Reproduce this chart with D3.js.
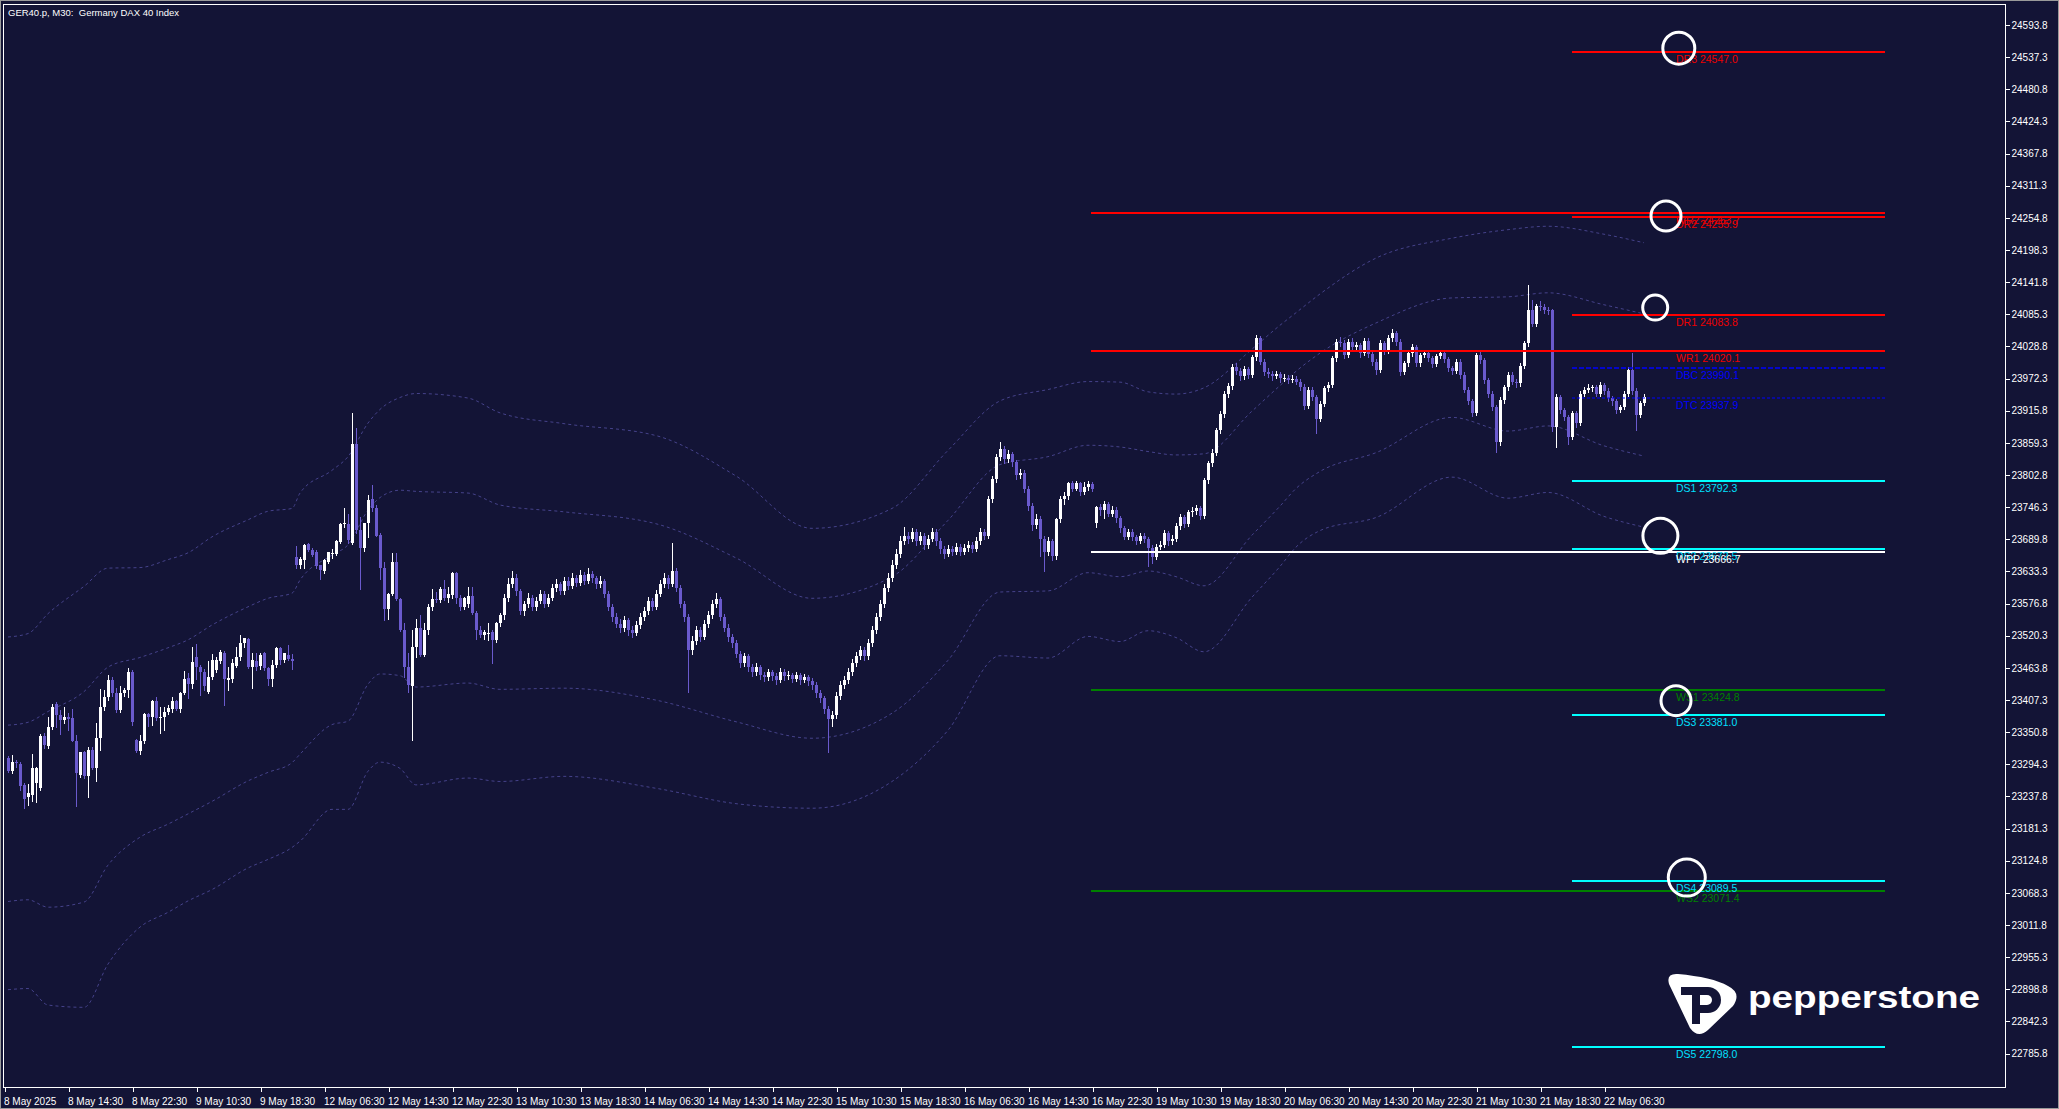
<!DOCTYPE html>
<html>
<head>
<meta charset="utf-8">
<script src="https://cdn.jsdelivr.net/npm/d3@7"></script>
<style>
  html, body { margin: 0; padding: 0; background: #131436; }
  svg { display: block; }
  text { font-family: "Liberation Sans", Arial, sans-serif; }
</style>
</head>
<body>
<div id="container"></div>
<script>
/* CONSTANTS AND GLOBALS */
const width = 2059, height = 1109;
const plot = {left: 3, top: 4, right: 2005, bottom: 1087};
const bgColor = "#131436";
const bullColor = "#ffffff", bearColor = "#6a5acd";

// time labels on the bottom axis, one every 16 bars
const timeLabels = ["8 May 2025", "8 May 14:30", "8 May 22:30", "9 May 10:30", "9 May 18:30",
  "12 May 06:30", "12 May 14:30", "12 May 22:30", "13 May 10:30", "13 May 18:30",
  "14 May 06:30", "14 May 14:30", "14 May 22:30", "15 May 10:30", "15 May 18:30",
  "16 May 06:30", "16 May 14:30", "16 May 22:30", "19 May 10:30", "19 May 18:30",
  "20 May 06:30", "20 May 14:30", "20 May 22:30", "21 May 10:30", "21 May 18:30",
  "22 May 06:30"];

// price scale labels
const yTickValues = [24593.8, 24537.3, 24480.8, 24424.3, 24367.8, 24311.3, 24254.8, 24198.3,
  24141.8, 24085.3, 24028.8, 23972.3, 23915.8, 23859.3, 23802.8, 23746.3, 23689.8, 23633.3,
  23576.8, 23520.3, 23463.8, 23407.3, 23350.8, 23294.3, 23237.8, 23181.3, 23124.8, 23068.3,
  23011.8, 22955.3, 22898.8, 22842.3, 22785.8];

// M30 candles [open, high, low, close]
const candles = [
  [23306,23309,23281,23283],[23283,23310,23279,23298],[23298,23302,23290,23296],[23295,23298,23249,23256],
  [23258,23262,23217,23234],[23236,23260,23223,23243],[23240,23312,23230,23287],[23262,23290,23228,23288],
  [23253,23347,23249,23344],[23344,23350,23322,23328],[23327,23378,23322,23360],[23360,23401,23357,23395],
  [23400,23404,23360,23381],[23381,23390,23347,23372],[23372,23395,23366,23377],[23377,23384,23354,23374],
  // 8 May 14:30
  [23375,23391,23335,23336],[23336,23346,23221,23279],[23276,23316,23272,23315],[23315,23318,23270,23274],
  [23274,23325,23236,23320],[23320,23324,23286,23287],[23287,23366,23264,23340],[23340,23426,23320,23395],
  [23395,23425,23390,23413],[23413,23451,23407,23442],[23442,23447,23415,23419],[23419,23428,23387,23390],
  [23390,23431,23387,23419],[23419,23428,23414,23425],[23425,23463,23413,23456],[23456,23460,23363,23369],
  // 8 May 22:30
  [23337,23338,23316,23318],[23318,23345,23313,23335],[23335,23384,23331,23382],[23382,23385,23361,23377],
  [23377,23407,23363,23406],[23406,23413,23372,23375],[23375,23395,23350,23378],[23378,23395,23354,23387],
  [23386,23398,23383,23393],[23391,23413,23387,23406],[23406,23408,23390,23392],[23392,23422,23387,23419],
  [23419,23459,23418,23445],[23446,23454,23410,23435],[23435,23501,23428,23474],[23482,23505,23445,23465],
  // 9 May 10:30
  [23465,23469,23416,23457],[23457,23462,23425,23432],[23422,23476,23419,23448],[23448,23488,23445,23477],
  [23460,23482,23456,23477],[23475,23495,23472,23492],[23490,23494,23398,23445],[23442,23466,23425,23446],
  [23444,23479,23439,23472],[23467,23501,23466,23483],[23482,23521,23477,23507],[23507,23517,23501,23516],
  [23514,23516,23463,23465],[23466,23490,23429,23477],[23476,23489,23460,23466],[23467,23490,23462,23486],
  // 9 May 18:30
  [23489,23492,23460,23463],[23463,23465,23433,23445],[23445,23477,23432,23469],[23469,23501,23465,23498],
  [23498,23501,23471,23477],[23477,23490,23474,23490],[23486,23504,23477,23480],[23480,23488,23462,23476],
  [23659,23678,23640,23645],[23645,23658,23640,23655],[23653,23681,23640,23680],[23681,23684,23670,23671],
  [23671,23675,23660,23662],[23668,23671,23640,23642],[23644,23645,23620,23636],[23634,23655,23630,23653],
  // 12 May 06:30
  [23650,23668,23648,23667],[23665,23672,23657,23666],[23664,23689,23662,23686],[23685,23718,23683,23716],
  [23716,23744,23712,23718],[23716,23735,23684,23688],[23684,23911,23682,23857],[23858,23885,23700,23706],
  [23706,23729,23602,23674],[23674,23719,23670,23719],[23719,23767,23694,23759],[23760,23786,23740,23744],
  [23745,23750,23696,23696],[23697,23700,23620,23639],[23640,23650,23548,23568],[23568,23595,23549,23594],
  // 12 May 14:30
  [23594,23665,23592,23650],[23650,23665,23583,23585],[23585,23587,23528,23530],[23530,23542,23448,23466],
  [23466,23489,23422,23433],[23432,23530,23337,23500],[23500,23549,23483,23533],[23533,23556,23484,23487],
  [23487,23542,23484,23530],[23530,23576,23524,23571],[23571,23603,23565,23585],[23585,23597,23580,23583],
  [23583,23606,23580,23602],[23602,23619,23583,23586],[23586,23606,23580,23594],[23592,23632,23586,23630],
  // 12 May 22:30
  [23630,23633,23578,23586],[23586,23592,23565,23571],[23571,23589,23567,23586],[23576,23605,23570,23590],
  [23590,23605,23559,23561],[23561,23563,23515,23531],[23531,23537,23518,23522],[23522,23530,23515,23527],
  [23523,23542,23513,23525],[23527,23530,23473,23513],[23513,23545,23510,23542],[23542,23560,23538,23556],
  [23556,23594,23550,23587],[23587,23622,23582,23611],[23611,23634,23605,23622],[23622,23628,23592,23599],
  // 13 May 10:30
  [23599,23603,23558,23564],[23564,23582,23556,23576],[23576,23596,23570,23587],[23587,23592,23565,23571],
  [23571,23588,23566,23581],[23581,23601,23577,23594],[23594,23598,23570,23576],[23576,23593,23572,23587],
  [23587,23611,23583,23604],[23604,23620,23598,23611],[23611,23615,23593,23599],[23599,23624,23594,23617],
  [23617,23623,23602,23608],[23608,23630,23604,23622],[23622,23627,23607,23613],[23613,23635,23609,23627],
  // 13 May 18:30
  [23627,23632,23611,23617],[23617,23640,23613,23629],[23629,23634,23615,23622],[23622,23626,23604,23611],
  [23611,23625,23606,23617],[23617,23620,23588,23594],[23594,23598,23565,23571],[23571,23576,23546,23553],
  [23553,23560,23535,23541],[23541,23549,23527,23534],[23534,23555,23529,23548],[23548,23552,23522,23530],
  [23530,23537,23518,23525],[23525,23546,23521,23539],[23539,23560,23534,23553],[23553,23571,23548,23564],
  // 14 May 06:30
  [23564,23588,23559,23581],[23581,23586,23565,23571],[23571,23601,23567,23594],[23594,23618,23590,23611],
  [23611,23630,23606,23622],[23622,23627,23604,23611],[23611,23684,23607,23634],[23634,23640,23598,23604],
  [23604,23610,23570,23576],[23576,23581,23546,23553],[23553,23558,23421,23495],[23495,23520,23488,23511],
  [23511,23538,23505,23530],[23530,23535,23511,23518],[23518,23548,23514,23541],[23541,23564,23536,23557],
  // 14 May 14:30
  [23557,23583,23552,23576],[23576,23595,23570,23585],[23585,23589,23547,23553],[23553,23558,23528,23534],
  [23534,23540,23511,23518],[23518,23523,23500,23507],[23507,23512,23482,23488],[23488,23493,23465,23472],
  [23472,23490,23467,23484],[23484,23488,23458,23465],[23465,23470,23449,23456],[23456,23472,23451,23465],
  [23465,23469,23445,23451],[23451,23457,23440,23447],[23447,23462,23442,23456],[23456,23460,23443,23449],
  // 14 May 22:30
  [23449,23454,23436,23442],[23442,23463,23438,23456],[23456,23461,23443,23449],[23449,23458,23444,23451],
  [23451,23455,23438,23444],[23444,23457,23440,23451],[23451,23455,23436,23442],[23442,23453,23438,23447],
  [23447,23451,23434,23440],[23440,23446,23427,23433],[23433,23438,23412,23419],[23419,23424,23403,23410],
  [23410,23415,23384,23391],[23391,23396,23315,23373],[23373,23388,23362,23380],[23380,23421,23376,23414],
  // 15 May 10:30
  [23414,23440,23409,23433],[23433,23449,23428,23442],[23442,23463,23437,23456],[23456,23479,23451,23472],
  [23472,23491,23467,23484],[23484,23502,23479,23495],[23495,23500,23478,23484],[23484,23514,23480,23507],
  [23507,23537,23502,23530],[23530,23560,23525,23553],[23553,23583,23548,23576],[23576,23611,23570,23604],
  [23604,23630,23598,23622],[23622,23653,23617,23645],[23645,23672,23640,23664],[23664,23695,23658,23687],
  // 15 May 18:30
  [23687,23712,23681,23696],[23696,23702,23684,23691],[23691,23710,23686,23703],[23703,23708,23680,23687],
  [23687,23703,23682,23696],[23696,23700,23673,23680],[23680,23698,23675,23691],[23691,23709,23686,23703],
  [23703,23707,23680,23687],[23687,23692,23666,23673],[23673,23678,23657,23664],[23664,23680,23660,23673],
  [23673,23678,23662,23668],[23668,23684,23664,23677],[23677,23682,23662,23668],[23668,23681,23663,23675],
  // 16 May 06:30
  [23675,23686,23670,23680],[23680,23685,23667,23673],[23673,23693,23669,23687],[23687,23709,23682,23703],
  [23703,23708,23690,23696],[23696,23766,23692,23761],[23761,23801,23756,23795],[23795,23840,23790,23834],
  [23834,23860,23829,23848],[23848,23853,23824,23830],[23830,23846,23825,23839],[23839,23843,23818,23825],
  [23825,23829,23796,23802],[23802,23813,23797,23807],[23807,23811,23772,23779],[23779,23783,23742,23749],
  // 16 May 14:30
  [23749,23753,23706,23714],[23714,23734,23709,23726],[23726,23730,23660,23691],[23691,23696,23634,23668],
  [23668,23693,23662,23687],[23687,23690,23653,23660],[23660,23728,23655,23726],[23726,23765,23721,23760],
  [23760,23772,23752,23766],[23766,23791,23761,23789],[23789,23793,23774,23779],[23779,23792,23776,23788],
  [23788,23791,23768,23772],[23772,23790,23769,23781],[23781,23792,23776,23787],[23787,23790,23774,23778],
  // 16 May 22:30 / new week
  [23719,23748,23712,23746],[23746,23752,23733,23741],[23741,23757,23728,23752],[23752,23756,23730,23735],
  [23735,23748,23730,23742],[23742,23746,23720,23727],[23727,23731,23703,23709],[23709,23713,23690,23694],
  [23694,23708,23690,23703],[23703,23707,23688,23693],[23693,23698,23682,23687],[23687,23700,23683,23696],
  [23696,23701,23685,23690],[23690,23694,23642,23674],[23674,23680,23648,23659],[23659,23681,23655,23677],
  // 19 May 10:30
  [23677,23687,23672,23680],[23680,23706,23676,23700],[23700,23704,23680,23686],[23686,23697,23681,23691],
  [23691,23718,23687,23713],[23713,23734,23708,23729],[23729,23733,23712,23717],[23717,23741,23713,23737],
  [23737,23746,23731,23740],[23740,23750,23735,23744],[23744,23748,23725,23731],[23731,23798,23727,23794],
  [23794,23828,23789,23823],[23823,23848,23818,23842],[23842,23886,23838,23882],[23882,23915,23877,23910],
  // 19 May 18:30
  [23910,23950,23905,23946],[23946,23964,23940,23959],[23959,23998,23954,23993],[23993,23999,23980,23986],
  [23986,23990,23970,23976],[23976,23994,23971,23989],[23989,23993,23974,23979],[23979,24014,23975,24010],
  [24010,24049,24005,24043],[24043,24047,23997,24002],[24002,24006,23978,23983],[23983,23990,23975,23980],
  [23980,23985,23970,23977],[23977,23986,23973,23980],[23980,23984,23967,23973],[23973,23980,23968,23974],
  // 20 May 06:30
  [23974,23978,23964,23970],[23970,23978,23966,23972],[23972,23976,23962,23967],[23967,23972,23953,23958],
  [23958,23962,23918,23924],[23924,23958,23920,23953],[23953,23958,23934,23939],[23939,23943,23876,23902],
  [23902,23932,23898,23928],[23928,23960,23924,23955],[23955,23966,23950,23961],[23961,24012,23957,24008],
  [24008,24042,24003,24037],[24037,24045,24030,24035],[24035,24040,24008,24014],[24014,24042,24010,24037],
  // 20 May 14:30
  [24037,24044,24022,24027],[24027,24036,24022,24031],[24031,24035,24011,24017],[24017,24044,24013,24039],
  [24039,24043,24010,24015],[24015,24019,23996,24002],[24002,24006,23980,23987],[23987,24040,23983,24034],
  [24034,24038,24016,24021],[24021,24048,24017,24043],[24043,24059,24038,24052],[24052,24056,24032,24037],
  [24037,24041,23979,23984],[23984,24004,23980,23999],[23999,24021,23994,24017],[24017,24033,24012,24028],
  // 20 May 22:30
  [24028,24032,23994,23999],[23999,24018,23995,24014],[24014,24022,24010,24018],[24018,24022,24003,24008],
  [24008,24012,23993,23998],[23998,24016,23994,24012],[24012,24021,24008,24017],[24017,24021,24001,24006],
  [24006,24010,23985,23990],[23990,23995,23981,23986],[23986,24006,23982,24002],[24002,24006,23974,23979],
  [23979,23983,23948,23953],[23953,23957,23927,23932],[23932,23936,23907,23912],[23912,24018,23908,24014],
  // 21 May 10:30
  [24014,24020,24000,24005],[24005,24009,23965,23970],[23970,23974,23940,23945],[23945,23950,23917,23922],
  [23922,23926,23844,23861],[23861,23939,23856,23935],[23935,23961,23930,23957],[23957,23983,23952,23979],
  [23979,23984,23962,23967],[23967,23972,23958,23964],[23964,23999,23960,23994],[23994,24039,23990,24034],
  [24034,24137,24030,24093],[24093,24110,24064,24069],[24069,24104,24065,24099],[24099,24108,24092,24098],
  // 21 May 18:30
  [24098,24103,24088,24093],[24093,24098,24085,24092],[24092,24095,23880,23888],[23888,23945,23852,23940],
  [23940,23944,23912,23917],[23917,23921,23900,23905],[23905,23909,23858,23870],[23870,23916,23866,23911],
  [23911,23915,23888,23894],[23894,23951,23890,23946],[23946,23958,23941,23953],[23953,23963,23948,23955],
  [23955,23961,23950,23957],[23957,23961,23941,23946],[23946,23966,23942,23961],[23961,23965,23946,23951],
  // 22 May 06:30
  [23951,23955,23932,23938],[23938,23942,23926,23932],[23932,23936,23912,23917],[23917,23926,23913,23922],
  [23922,23950,23918,23945],[23945,23992,23941,23987],[23987,24017,23946,23951],[23951,23955,23882,23908],
  [23908,23933,23904,23929],[23929,23945,23925,23940]
];

// bollinger style bands: middle line and deviation, sampled at these bars
const bandBars = [0, 5, 10, 19, 25, 33, 40, 45, 51, 60, 65, 71, 73, 81, 85, 90, 93, 98, 102, 115,
  123, 139, 162, 182, 201, 221, 235, 248, 260, 270, 278, 285, 292, 299, 311, 318, 322, 328, 342,
  361, 375, 385, 399, 409];
const bandMid = [23208, 23212, 23215, 23237, 23291, 23324, 23344, 23360, 23384, 23418, 23433, 23446,
  23465, 23513, 23525, 23588, 23608, 23613, 23602, 23604, 23588, 23583, 23562, 23513, 23463, 23504,
  23600, 23709, 23717, 23743, 23738, 23739, 23731, 23724, 23806, 23854, 23882, 23913, 23956, 24009,
  23998, 24006, 23978, 23961];
const bandDev = [155, 156, 172, 185, 174, 158, 155, 153, 155, 153, 153, 149, 153, 149, 155, 153, 155,
  163, 172, 167, 162, 155, 155, 144, 123, 120, 123, 112, 118, 112, 114, 105, 107, 116, 109, 106, 103,
  104, 114, 105, 118, 117, 124, 125];

// pivot levels
const levelNames = ["DR3", "WR2", "DR2", "DR1", "WR1", "DBC", "DTC", "DS1", "DS2", "WPP", "WS1", "DS3", "DS4", "WS2", "DS5"];
const levelValues = [24547.0, 24263.7, 24255.9, 24083.8, 24020.1, 23990.1, 23937.9, 23792.3, 23672.5, 23666.7, 23424.8, 23381.0, 23089.5, 23071.4, 22798.0];

// hand drawn circles [bar, price, radius]
const circleMarks = [[417.7, 24553, 16], [414.5, 24258, 15], [411.8, 24097, 12.5],
  [413.1, 23696, 17.5], [417, 23406, 15], [419.7, 23095, 18.5]];

/* SCALES */
const xScale = d3.scaleLinear().domain([-1, 499.25]).range([4, 2005]);
const yScale = d3.scaleLinear().domain([22785.8, 24593.8]).range([1053.5, 25]);

const levelStyle = {
  DR: {stroke: "#ff0000", text: "#ee0000", width: 2, dash: null},
  WR: {stroke: "#ff0000", text: "#ee0000", width: 2, dash: null},
  DB: {stroke: "#0000ff", text: "#0000ff", width: 1.5, dash: "5,2"},
  DT: {stroke: "#0000ff", text: "#0000ff", width: 1, dash: "3,2"},
  DS: {stroke: "#00ffff", text: "#00e0ff", width: 2, dash: null},
  WS: {stroke: "#008000", text: "#008000", width: 2, dash: null},
  WP: {stroke: "#ffffff", text: "#ffffff", width: 2, dash: null}
};
const dailySpan = [391, 469.25], weeklySpan = [270.75, 469.25], labelBar = 417;

/* DRAW */
const svg = d3.select("#container").append("svg")
  .attr("width", width).attr("height", height);

svg.append("rect").attr("width", width).attr("height", height).attr("fill", bgColor);
svg.append("rect").attr("x", 0.5).attr("y", 0.5).attr("width", width - 1).attr("height", height - 1)
  .attr("fill", "none").attr("stroke", "#9a9a9a");

svg.append("clipPath").attr("id", "clip").append("rect")
  .attr("x", plot.left).attr("y", plot.top)
  .attr("width", plot.right - plot.left).attr("height", plot.bottom - plot.top);

const chart = svg.append("g").attr("clip-path", "url(#clip)");

// bands
[2, 1, -1, -2].forEach(k => {
  const line = d3.line()
    .x(d => xScale(d))
    .y((d, i) => yScale(bandMid[i] + k * bandDev[i]))
    .curve(d3.curveMonotoneX);
  chart.append("path").datum(bandBars)
    .attr("d", line)
    .attr("fill", "none")
    .attr("stroke", "#45428a")
    .attr("stroke-width", 1)
    .attr("stroke-dasharray", "3,3");
});

// candles
const candleG = chart.append("g").attr("shape-rendering", "crispEdges");
candleG.selectAll("line.wick")
  .data(candles)
  .join("line")
  .attr("class", "wick")
  .attr("x1", (d, i) => Math.round(xScale(i)) + 0.5)
  .attr("x2", (d, i) => Math.round(xScale(i)) + 0.5)
  .attr("y1", d => Math.round(yScale(d[1])))
  .attr("y2", d => Math.round(yScale(d[2])) + 1)
  .attr("stroke", d => d[3] >= d[0] ? bullColor : bearColor);

candleG.selectAll("rect.body")
  .data(candles)
  .join("rect")
  .attr("class", "body")
  .attr("x", (d, i) => Math.round(xScale(i)) - 1)
  .attr("width", 3)
  .attr("y", d => Math.round(yScale(Math.max(d[0], d[3]))))
  .attr("height", d => Math.max(1, Math.round(yScale(Math.min(d[0], d[3]))) - Math.round(yScale(Math.max(d[0], d[3])))))
  .attr("fill", d => d[3] >= d[0] ? bullColor : bearColor);

// pivot levels
const levels = levelNames.map((n, i) => ({name: n, value: levelValues[i], style: levelStyle[n.slice(0, 2)]}));
const levelG = svg.append("g");
levelG.selectAll("line")
  .data(levels)
  .join("line")
  .attr("x1", d => xScale(d.name[0] === "W" ? weeklySpan[0] : dailySpan[0]))
  .attr("x2", d => xScale(d.name[0] === "W" ? weeklySpan[1] : dailySpan[1]))
  .attr("y1", d => Math.round(yScale(d.value)))
  .attr("y2", d => Math.round(yScale(d.value)))
  .attr("stroke", d => d.style.stroke)
  .attr("stroke-width", d => d.style.width)
  .attr("stroke-dasharray", d => d.style.dash);

levelG.selectAll("text")
  .data(levels)
  .join("text")
  .attr("x", xScale(labelBar))
  .attr("y", d => Math.round(yScale(d.value)) + 11)
  .attr("font-size", "10.5px")
  .attr("fill", d => d.style.text)
  .text(d => `${d.name} ${d.value.toFixed(1)}`);

// circles
svg.append("g").selectAll("circle")
  .data(circleMarks)
  .join("circle")
  .attr("cx", d => xScale(d[0]))
  .attr("cy", d => yScale(d[1]))
  .attr("r", d => d[2])
  .attr("fill", "none")
  .attr("stroke", "#ffffff")
  .attr("stroke-width", 3);

// frame
svg.append("rect")
  .attr("x", plot.left + 0.5).attr("y", plot.top + 0.5)
  .attr("width", plot.right - plot.left).attr("height", plot.bottom - plot.top)
  .attr("fill", "none").attr("stroke", "#ffffff").attr("stroke-width", 1)
  .attr("shape-rendering", "crispEdges");

// right price axis
const yAxis = d3.axisRight(yScale)
  .tickValues(yTickValues)
  .tickFormat(d3.format(".1f"))
  .tickSize(4)
  .tickPadding(2);
const yAxisG = svg.append("g")
  .attr("transform", `translate(${plot.right + 0.5},0)`)
  .call(yAxis);
yAxisG.select(".domain").remove();
yAxisG.selectAll("line").attr("stroke", "#ffffff").attr("shape-rendering", "crispEdges");
yAxisG.selectAll("text").attr("fill", "#ffffff").attr("font-size", "10px")
  .attr("font-family", "'Liberation Sans', Arial, sans-serif");

// bottom time axis
const labelBars = timeLabels.map((t, k) => 16 * k - 1);
const xAxis = d3.axisBottom(xScale)
  .tickValues(labelBars)
  .tickFormat((d, i) => timeLabels[i])
  .tickSize(4)
  .tickPadding(6);
const xAxisG = svg.append("g")
  .attr("transform", `translate(0.5,${plot.bottom + 0.5})`)
  .call(xAxis);
xAxisG.select(".domain").remove();
xAxisG.selectAll("line").attr("stroke", "#ffffff").attr("shape-rendering", "crispEdges");
xAxisG.selectAll("text").attr("fill", "#ffffff").attr("font-size", "10px")
  .attr("text-anchor", "start").attr("x", -1)
  .attr("font-family", "'Liberation Sans', Arial, sans-serif");

// title
svg.append("text")
  .attr("x", 8).attr("y", 16)
  .attr("font-size", "9.5px")
  .attr("fill", "#ffffff")
  .style("white-space", "pre")
  .text("GER40.p, M30:  Germany DAX 40 Index");

// logo
const logo = svg.append("g");
logo.append("path")
  .attr("d", "M1678,974 C1700,976 1718,980 1728,986 Q1742,993 1733,1006 L1708,1030 Q1698,1039 1690,1028 L1669,984 Q1666,973 1678,974 Z")
  .attr("fill", "#ffffff");
logo.append("rect").attr("x", 1681).attr("y", 987).attr("width", 24).attr("height", 8).attr("fill", bgColor);
logo.append("rect").attr("x", 1692).attr("y", 987).attr("width", 8).attr("height", 37).attr("fill", bgColor);
logo.append("path").attr("d", "M1700,987 H1708 A13,13 0 0 1 1708,1013 H1700 Z").attr("fill", bgColor);
logo.append("path").attr("d", "M1700,995 H1707 A5,5 0 0 1 1707,1005 H1700 Z").attr("fill", "#ffffff");
logo.append("text")
  .attr("x", 1748).attr("y", 1008)
  .attr("font-family", "Inter, 'Noto Sans', sans-serif")
  .attr("font-weight", 600)
  .attr("font-size", "32px")
  .attr("fill", "#ffffff")
  .attr("textLength", 232)
  .attr("lengthAdjust", "spacingAndGlyphs")
  .text("pepperstone");
</script>
</body>
</html>
